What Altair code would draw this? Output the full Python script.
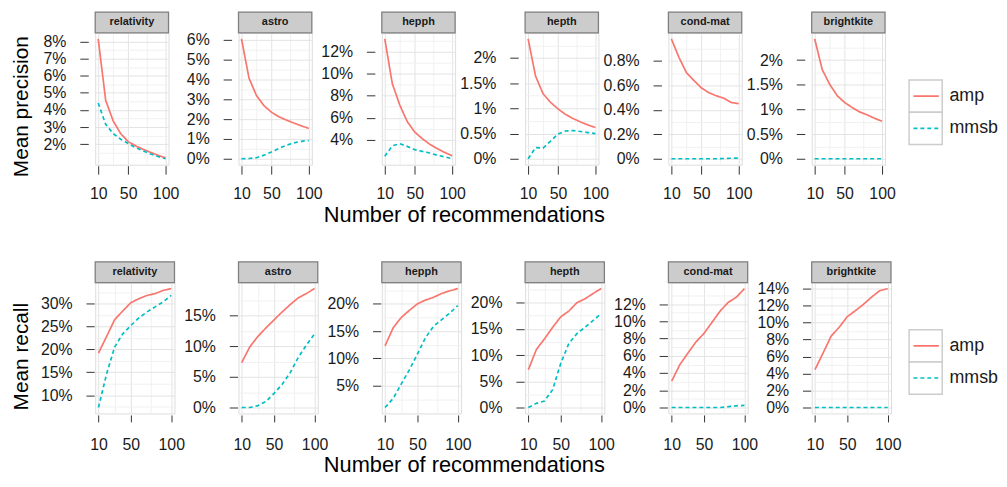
import altair as alt
import pandas as pd

FONT = "Liberation Sans"
RED = "#F8766D"
CYAN = "#00BFC4"
BORDER = "#7F7F7F"
STRIP_FILL = "#CCCCCC"
GRID_MAJOR = "#E3E3E3"
GRID_MINOR = "#F1F1F1"
TXT = "#1A1A1A"
TICK = "#333333"

n_recs = [10, 20, 30, 40, 50, 60, 70, 80, 90, 100]
datasets = ["relativity", "astro", "hepph", "hepth", "cond-mat", "brightkite"]
methods = ["amp", "mmsb"]
x_major = [10, 50, 100]
x_grid = [10, 30, 50, 75, 100]

# ---- Mean precision (%) ----
prec_relativity_amp = [8.15, 4.56, 3.36, 2.62, 2.15, 1.9, 1.7, 1.52, 1.35, 1.2]
prec_relativity_mmsb = [4.4, 3.16, 2.62, 2.29, 2.04, 1.8, 1.61, 1.43, 1.28, 1.15]
prec_astro_amp = [6.05, 4.07, 3.19, 2.68, 2.35, 2.12, 1.95, 1.8, 1.66, 1.53]
prec_astro_mmsb = [0.0, 0.01, 0.05, 0.18, 0.34, 0.52, 0.68, 0.8, 0.88, 0.92]
prec_hepph_amp = [13.15, 9.1, 7.15, 5.65, 4.7, 4.1, 3.6, 3.2, 2.85, 2.55]
prec_hepph_mmsb = [2.5, 3.45, 3.64, 3.4, 3.1, 2.95, 2.8, 2.6, 2.45, 2.28]
prec_hepth_amp = [2.38, 1.64, 1.29, 1.12, 0.99, 0.88, 0.8, 0.73, 0.67, 0.62]
prec_hepth_mmsb = [0.0, 0.22, 0.21, 0.35, 0.49, 0.55, 0.56, 0.54, 0.52, 0.5]
prec_condmat_amp = [0.98, 0.83, 0.705, 0.64, 0.58, 0.54, 0.515, 0.495, 0.46, 0.45]
prec_condmat_mmsb = [0.0, 0.0, 0.0, 0.0, 0.0, 0.0, 0.0, 0.002, 0.004, 0.005]
prec_brightkite_amp = [2.43, 1.81, 1.51, 1.28, 1.14, 1.04, 0.95, 0.89, 0.82, 0.76]
prec_brightkite_mmsb = [0.0, 0.0, 0.0, 0.0, 0.0, 0.0, 0.0, 0.0, 0.0, 0.0]

prec_ticks_relativity = [2, 3, 4, 5, 6, 7, 8]
prec_ticks_astro = [0, 1, 2, 3, 4, 5, 6]
prec_ticks_hepph = [4, 6, 8, 10, 12]
prec_ticks_hepth = [0, 0.5, 1, 1.5, 2]
prec_ticks_condmat = [0, 0.2, 0.4, 0.6, 0.8]
prec_ticks_brightkite = [0, 0.5, 1, 1.5, 2]

# ---- Mean recall (%) ----
rec_relativity_amp = [19.2, 22.8, 26.5, 28.4, 30.2, 31.1, 31.8, 32.2, 32.9, 33.3]
rec_relativity_mmsb = [7.3, 14.6, 20.5, 23.4, 25.2, 26.9, 28.2, 29.3, 30.4, 31.8]
rec_astro_amp = [7.34, 9.9, 11.6, 13.0, 14.3, 15.6, 16.8, 17.9, 18.6, 19.4]
rec_astro_mmsb = [0.0, 0.0, 0.3, 1.0, 2.3, 3.8, 5.7, 8.2, 10.2, 12.0]
rec_hepph_amp = [12.3, 15.6, 17.5, 18.8, 20.0, 20.7, 21.2, 21.9, 22.4, 22.8]
rec_hepph_mmsb = [1.0, 2.65, 5.3, 7.9, 10.8, 13.8, 15.9, 17.1, 18.3, 19.7]
rec_hepth_amp = [7.2, 11.1, 13.1, 15.3, 17.3, 18.4, 20.0, 20.75, 21.75, 22.7]
rec_hepth_mmsb = [0.0, 0.8, 1.25, 3.4, 8.4, 12.2, 14.1, 15.3, 16.6, 17.9]
rec_condmat_amp = [3.05, 4.95, 6.3, 7.6, 8.6, 9.9, 11.2, 12.2, 12.8, 13.8]
rec_condmat_mmsb = [0.0, 0.0, 0.0, 0.0, 0.0, 0.0, 0.0, 0.1, 0.2, 0.25]
rec_brightkite_amp = [4.45, 6.4, 8.4, 9.45, 10.7, 11.4, 12.15, 13.0, 13.75, 14.0]
rec_brightkite_mmsb = [0.0, 0.0, 0.0, 0.0, 0.0, 0.0, 0.0, 0.0, 0.0, 0.0]

rec_ticks_relativity = [10, 15, 20, 25, 30]
rec_ticks_astro = [0, 5, 10, 15]
rec_ticks_hepph = [5, 10, 15, 20]
rec_ticks_hepth = [0, 5, 10, 15, 20]
rec_ticks_condmat = [0, 2, 4, 6, 8, 10, 12]
rec_ticks_brightkite = [0, 2, 4, 6, 8, 10, 12, 14]

precision_panels = [
    (prec_relativity_amp, prec_relativity_mmsb, prec_ticks_relativity),
    (prec_astro_amp, prec_astro_mmsb, prec_ticks_astro),
    (prec_hepph_amp, prec_hepph_mmsb, prec_ticks_hepph),
    (prec_hepth_amp, prec_hepth_mmsb, prec_ticks_hepth),
    (prec_condmat_amp, prec_condmat_mmsb, prec_ticks_condmat),
    (prec_brightkite_amp, prec_brightkite_mmsb, prec_ticks_brightkite),
]
recall_panels = [
    (rec_relativity_amp, rec_relativity_mmsb, rec_ticks_relativity),
    (rec_astro_amp, rec_astro_mmsb, rec_ticks_astro),
    (rec_hepph_amp, rec_hepph_mmsb, rec_ticks_hepph),
    (rec_hepth_amp, rec_hepth_mmsb, rec_ticks_hepth),
    (rec_condmat_amp, rec_condmat_mmsb, rec_ticks_condmat),
    (rec_brightkite_amp, rec_brightkite_mmsb, rec_ticks_brightkite),
]

STEP = 144.6
LX = -46.3

rows_cfg = [
    dict(title="Mean precision", panels=precision_panels, W=74, H=133,
         yoff=7, ytick=8.5, xoff=1, xtick=8.5, xpad=12, ext=50, toff=3),
    dict(title="Mean recall", panels=recall_panels, W=80, H=132,
         yoff=1, ytick=8.3, xoff=1.5, xtick=7, xpad=14.5, ext=56, toff=3),
]

color_scale = alt.Scale(domain=methods, range=[RED, CYAN])
dash_scale = alt.Scale(domain=methods, range=[[1, 0], [4, 3]])


def panel(name, amp, mmsb, majors, cfg, first):
    W, H = cfg["W"], cfg["H"]
    df = pd.DataFrame({
        "n": n_recs + n_recs,
        "value": amp + mmsb,
        "method": ["amp"] * len(amp) + ["mmsb"] * len(mmsb),
    })
    allv = amp + mmsb
    lo, hi = min(allv), max(allv)
    pad = 0.05 * (hi - lo)
    dom = [lo - pad, hi + pad]
    half = (majors[1] - majors[0]) / 2
    cand = [majors[0] - half] + [m + k * half for m in majors for k in (0, 1)]
    vals = [round(v, 6) for v in cand if dom[0] <= v <= dom[1]]
    arr = "[" + ",".join(str(m) for m in majors) + "]"
    ytest = f"indexof({arr}, datum.value) >= 0"
    yextra = {"minExtent": cfg["ext"]} if first else {}
    yaxis = alt.Axis(
        values=vals, title=None, domain=False, grid=True,
        gridColor={"condition": {"test": ytest, "value": GRID_MAJOR}, "value": GRID_MINOR},
        gridWidth=1,
        tickOpacity={"condition": {"test": ytest, "value": 1}, "value": 0},
        tickSize=cfg["ytick"], tickColor=TICK, tickWidth=1,
        offset=cfg["yoff"], labelPadding=14,
        labelExpr=f"{ytest} ? datum.value + '%' : ''",
        labelFont=FONT, labelFontSize=16, labelColor=TXT, labelOverlap=False,
        **yextra,
    )
    xarr = "[" + ",".join(str(m) for m in x_major) + "]"
    xtest = f"indexof({xarr}, datum.value) >= 0"
    xaxis = alt.Axis(
        values=x_grid, title=None, domain=False, grid=True,
        gridColor={"condition": {"test": xtest, "value": GRID_MAJOR}, "value": GRID_MINOR},
        gridWidth=1,
        tickOpacity={"condition": {"test": xtest, "value": 1}, "value": 0},
        tickSize=cfg["xtick"], tickColor=TICK, tickWidth=1,
        offset=cfg["xoff"], labelPadding=cfg["xpad"],
        labelExpr=f"{xtest} ? datum.label : ''",
        labelFont=FONT, labelFontSize=16, labelColor=TXT, labelOverlap=False,
        labelFlush=False,
    )
    lines = alt.Chart(df).mark_line(strokeWidth=1.7).encode(
        x=alt.X("n:Q", scale=alt.Scale(domain=[6, 104], nice=False, zero=False), axis=xaxis),
        y=alt.Y("value:Q", scale=alt.Scale(domain=dom, nice=False, zero=False), axis=yaxis),
        color=alt.Color("method:N", scale=color_scale, legend=None),
        strokeDash=alt.StrokeDash("method:N", scale=dash_scale, legend=None),
    )
    sdf = pd.DataFrame({"name": [name]})
    strip = alt.Chart(sdf).mark_rect(fill=STRIP_FILL, stroke=BORDER, strokeWidth=1.3).encode(
        x=alt.value(0), x2=alt.value(W), y=alt.value(-21), y2=alt.value(0)
    )
    stext = alt.Chart(sdf).mark_text(
        font=FONT, fontSize=11, fontWeight="bold", color=TXT, baseline="middle", align="center"
    ).encode(x=alt.value(W / 2), y=alt.value(-10.5), text="name:N")
    return alt.layer(lines, strip, stext).properties(width=W, height=H)


def legend_chart(cfg):
    ldf = pd.DataFrame({"method": methods})
    yenc = alt.Y("method:N", scale=alt.Scale(domain=methods, range=[47.5, 112.5],
                                            paddingInner=0, paddingOuter=0), axis=None)
    box = alt.Chart(ldf).mark_rect(fill="white", stroke="#CCCCCC", strokeWidth=1.5).encode(
        y=yenc, x=alt.value(LX), x2=alt.value(LX + 33.4)
    )
    key = alt.Chart(ldf).mark_rule(strokeWidth=1.7).encode(
        y=yenc, x=alt.value(LX + 4.4), x2=alt.value(LX + 30),
        color=alt.Color("method:N", scale=color_scale, legend=None),
        strokeDash=alt.StrokeDash("method:N", scale=dash_scale, legend=None),
    )
    lab = alt.Chart(ldf).mark_text(font=FONT, fontSize=18, color=TXT, align="left",
                                   baseline="middle").encode(
        y=yenc, x=alt.value(LX + 40.7), text="method:N"
    )
    return alt.layer(box, key, lab).properties(
        width=1, height=cfg["H"], view=alt.ViewBackground(stroke="transparent")
    )


rows = []
for cfg in rows_cfg:
    cells = []
    for i, (name, (amp, mmsb, majors)) in enumerate(zip(datasets, cfg["panels"])):
        cells.append(panel(name, amp, mmsb, majors, cfg, i == 0))
    cells.append(legend_chart(cfg))
    inner = alt.hconcat(*cells, spacing=STEP - cfg["W"], bounds="flush").properties(
        title=alt.TitleParams(cfg["title"], orient="left", anchor="middle", font=FONT,
                              fontSize=21, fontWeight="normal", color="black", offset=6)
    )
    row = alt.vconcat(inner).properties(
        title=alt.TitleParams("Number of recommendations", orient="bottom", anchor="middle",
                              font=FONT, fontSize=22, fontWeight="normal", color="black",
                              offset=cfg["toff"], dx=-41)
    )
    rows.append(row)

chart = alt.vconcat(*rows, spacing=34).properties(
    padding={"left": 3, "top": 0, "right": 0, "bottom": 0}
).configure_view(
    stroke=BORDER, strokeWidth=1.3
).configure(font=FONT)

chart.save("out.html", embed_options={"renderer": "svg", "actions": False})
